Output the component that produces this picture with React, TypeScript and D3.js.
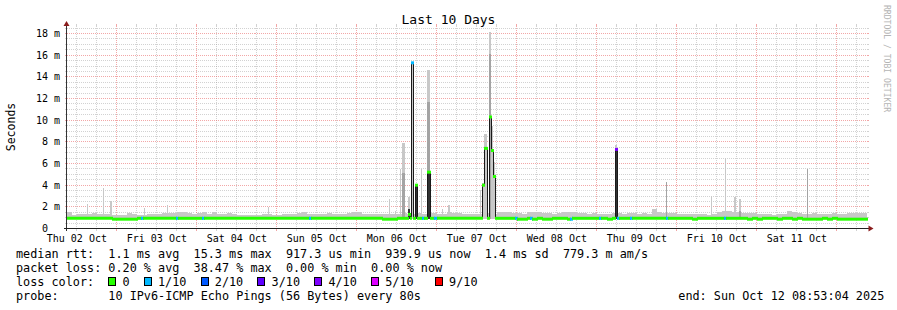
import React from "react";
import * as d3 from "d3";

// ---------------- data ----------------
const TITLE = "Last 10 Days";
const Y_LABEL = "Seconds";
const WATERMARK = "RRDTOOL / TOBI OETIKER";
const START = "2025-10-02T08:53:04Z";
const END = "2025-10-12T08:53:04Z";
const Y_MAX = 18.7; // ms
const Y_TICKS = [0, 2, 4, 6, 8, 10, 12, 14, 16, 18];
const Y_MINOR = 0.5;
const BIN_HOURS = 1.5; // each value below covers 1.5 h
const SMOKE_FLOOR = 0.86; // ms, fastest ping

// upper edge of the smoke (ms) per 1.5 h bin
const SMOKE_TOP = [
  1.5, 1.25, 1.3, 1.3, 1.35, 1.4, 1.38, 1.32, 1.32, 1.25,
  1.23, 1.25, 1.45, 1.3, 1.28, 1.25, 1.32, 1.32, 1.35, 1.45,
  1.42, 1.42, 1.55, 1.5, 1.42, 1.35, 1.4, 1.5, 1.32, 1.5,
  1.32, 1.3, 1.42, 1.38, 1.28, 1.25, 1.23, 1.23, 1.25, 1.35,
  1.3, 1.29, 1.29, 1.3, 1.38, 1.38, 1.45, 1.48, 1.32, 1.32,
  1.3, 1.38, 1.4, 1.38, 1.35, 1.35, 1.45, 1.48, 1.5, 1.3,
  1.3, 1.32, 1.38, 1.3, 1.35, 1.38, 1.35, 1.4, 1.3, 1.35,
  1.4, 1.35, 1.4, 1.45, 1.35, 1.32, 1.5, 1.45, 1.42, 1.38,
  1.35, 1.35, 1.3, 1.28, 1.3, 1.35, 1.55, 1.5, 1.55, 1.45,
  1.4, 1.38, 1.55, 1.5, 1.48, 1.45, 1.42, 1.38, 1.4, 1.5,
  1.55, 1.5, 1.42, 1.4, 1.38, 1.4, 1.35, 1.3, 1.32, 1.45,
  1.4, 1.38, 1.42, 1.45, 1.38, 1.4, 1.35, 1.8, 1.5, 1.45,
  1.4, 1.42, 1.38, 1.35, 1.38, 1.32, 1.35, 1.3, 1.28, 1.3,
  1.5, 1.65, 1.6, 1.48, 1.5, 1.45, 1.42, 1.4, 1.38, 1.35,
  1.3, 1.28, 1.3, 1.32, 1.58, 1.55, 1.4, 1.38, 1.35, 1.4,
  1.38, 1.32, 1.35, 1.4, 1.38, 1.35, 1.42, 1.45, 1.45, 1.42,
];

// median rtt (ms) per 1.5 h bin
const MEDIAN_BASE = [
  0.94, 0.94, 0.94, 0.94, 0.94, 0.94, 0.94, 0.94, 0.94, 0.86,
  0.86, 0.86, 0.86, 0.86, 0.94, 0.94, 0.94, 0.94, 0.94, 0.94,
  0.94, 0.94, 0.94, 0.94, 0.94, 0.94, 0.94, 0.94, 0.94, 0.94,
  0.94, 0.94, 0.94, 0.94, 0.94, 0.94, 0.94, 0.94, 0.94, 0.94,
  0.94, 0.94, 0.94, 0.94, 0.94, 0.94, 0.94, 0.94, 0.94, 0.94,
  0.94, 0.94, 0.94, 0.94, 0.94, 0.94, 0.94, 0.94, 0.94, 0.94,
  0.94, 0.94, 0.94, 0.86, 0.86, 0.86, 0.94, 0.94, 0.94, 0.94,
  0.94, 0.94, 0.94, 0.94, 0.94, 0.94, 0.94, 0.94, 0.94, 0.94,
  0.94, 0.94, 0.94, 0.94, 0.94, 0.94, 0.94, 0.94, 0.94, 0.94,
  0.86, 0.86, 0.94, 0.86, 0.94, 0.86, 0.86, 0.94, 0.94, 0.94,
  0.86, 0.94, 0.94, 0.94, 0.94, 0.94, 0.94, 0.94, 0.86, 0.94,
  0.94, 0.94, 0.94, 0.94, 0.94, 0.94, 0.94, 0.94, 0.94, 0.94,
  0.94, 0.94, 0.94, 0.94, 0.94, 0.86, 0.94, 0.94, 0.94, 0.94,
  0.94, 0.94, 0.94, 0.94, 0.94, 0.94, 0.86, 0.94, 0.86, 0.94,
  0.94, 0.94, 0.86, 0.94, 0.94, 0.86, 0.94, 0.86, 0.86, 0.86,
  0.86, 0.94, 0.86, 0.94, 0.86, 0.86, 0.86, 0.86, 0.86, 0.86,
];

// short periods with 1/10 packet loss on the baseline
const LOSS_SPOTS = [
  "2025-10-03T07:14", "2025-10-03T17:53", "2025-10-04T01:41", "2025-10-05T09:47",
  "2025-10-06T19:32", "2025-10-06T23:08", "2025-10-07T23:35", "2025-10-08T03:56",
  "2025-10-08T16:05", "2025-10-09T00:47", "2025-10-09T06:10", "2025-10-09T09:56",
  "2025-10-09T20:53", "2025-10-10T14:08",
];
const LOSS_SPOT_MINUTES = [36, 36, 36, 36, 36, 54, 36, 36, 36, 36, 27, 36, 36, 36];

// latency spikes
const SPIKE_START = [
  "2025-10-02T15:02", "2025-10-02T19:50", "2025-10-02T21:56", "2025-10-03T08:08",
  "2025-10-03T15:02", "2025-10-04T21:20", "2025-10-06T09:38", "2025-10-06T11:26",
  "2025-10-06T12:56", "2025-10-06T13:41", "2025-10-06T15:20", "2025-10-06T16:23",
  "2025-10-06T17:26", "2025-10-06T19:23", "2025-10-06T21:02", "2025-10-07T01:32",
  "2025-10-07T03:29", "2025-10-07T12:56", "2025-10-07T13:37", "2025-10-07T14:13",
  "2025-10-07T15:01", "2025-10-07T15:43", "2025-10-07T16:23", "2025-10-07T16:59",
  "2025-10-09T05:31", "2025-10-09T20:44", "2025-10-10T10:14", "2025-10-10T14:35",
  "2025-10-10T17:17", "2025-10-10T18:47", "2025-10-11T15:02",
];
const SPIKE_MINUTES = [18, 18, 36, 18, 18, 18, 18, 18, 18, 45, 36, 36, 36, 18, 54, 18,
  36, 18, 36, 48, 42, 40, 36, 32, 36, 27, 18, 18, 27, 27, 18];
const SPIKE_MEDIAN: (number | null)[] = [null, null, null, null, null, null, null, null,
  null, null, 1.3, 15.3, 4.0, null, 5.2, null, null, null, 4.0, 7.4, 0.94, 10.3, 7.2, 4.8,
  7.3, null, null, null, null, null, null];
const SPIKE_LOSS = [0, 0, 0, 0, 0, 0, 0, 0, 0, 0, 0, 1, 0, 0, 0, 0, 0, 0, 0, 0, 0, 0, 0, 0,
  4, 0, 0, 0, 0, 0, 0];
const SPIKE_LIGHT = [2.3, 3.7, 2.5, 1.9, 2.2, 2.0, 2.7, 1.6, 5.5, 7.9, 2.9, 15.4, 4.0, 5.5,
  14.6, 1.8, 2.2, 3.6, 4.2, 8.7, 1.4, 18.1, 9.5, 6.1, 7.7, 4.3, 3.0, 6.5, 2.9, 2.7, 5.5];
const SPIKE_MID = [0, 0, 0, 0, 0, 0, 0, 0, 0, 5.1, 0, 0, 0, 0, 11.7, 0, 0, 0, 0, 0, 0, 16.1,
  0, 0, 0, 4.3, 0, 0, 0, 1.6, 5.5];
const SPIKE_DARK = [0, 0, 0, 0, 0, 0, 0, 0, 0, 0, 1.8, 0, 4.0, 0, 5.2, 0, 0, 0, 0, 0, 0, 0,
  0, 0, 7.3, 0, 0, 0, 0, 0, 0];

const LOSS_COLORS = ["#26ff00", "#00b8ff", "#0059ff", "#5e00ff", "#7e00ff", "#dd00ff", "#ff0000"];
const LOSS_LABELS = ["0", "1/10", "2/10", "3/10", "4/10", "5/10", "9/10"];
const LOSS_BOX_COL = [13, 18, 26, 34, 42, 50, 59];

const LEGEND_RTT = "median rtt:  1.1 ms avg  15.3 ms max  917.3 us min  939.9 us now  1.4 ms sd  779.3 m am/s";
const LEGEND_LOSS = "packet loss: 0.20 % avg  38.47 % max  0.00 % min  0.00 % now";
const LEGEND_COLOR = "loss color:";
const LEGEND_PROBE = "probe:       10 IPv6-ICMP Echo Pings (56 Bytes) every 80s";
const END_LABEL = "end: Sun Oct 12 08:53:04 2025";

// ---------------- layout ----------------
const W = 897;
const H = 310;
const PL = 66.5;
const PR = 866.5;
const PB = 228.5;
const PT = 26;
const MONO = "'DejaVu Sans Mono', monospace";
const CH = 7.1; // legend char width

export default function App() {
  const t0 = new Date(START);
  const t1 = new Date(END);
  const x = d3.scaleUtc().domain([t0, t1]).range([PL, PR]);
  const y = d3.scaleLinear().domain([0, Y_MAX]).range([PB, PT]);
  const snap = (v: number) => Math.floor(v) + 0.5;
  const parse = d3.utcParse("%Y-%m-%dT%H:%M");
  const T0 = t0.getTime();
  const T1 = t1.getTime();
  const binMs = BIN_HOURS * 3600000;

  const spikes = SPIKE_START.map((s, i) => {
    const a = parse(s)!.getTime();
    return {
      a, b: a + SPIKE_MINUTES[i] * 60000, med: SPIKE_MEDIAN[i], loss: SPIKE_LOSS[i],
      light: SPIKE_LIGHT[i], mid: SPIKE_MID[i], dark: SPIKE_DARK[i],
    };
  });
  const spots = LOSS_SPOTS.map((s, i) => {
    const a = parse(s)!.getTime();
    return { a, b: a + LOSS_SPOT_MINUTES[i] * 60000, loss: 1 };
  });

  const bp = new Set<number>();
  for (let k = 0; k <= MEDIAN_BASE.length; k++) bp.add(Math.min(T1, T0 + k * binMs));
  spikes.forEach((s) => { if (s.med != null) { bp.add(s.a); bp.add(s.b); } });
  spots.forEach((s) => { bp.add(s.a); bp.add(s.b); });
  const br = Array.from(bp).filter((t) => t >= T0 && t <= T1).sort((p, q) => p - q);
  const segs: { a: number; b: number; v: number; loss: number }[] = [];
  for (let i = 0; i < br.length - 1; i++) {
    const a = br[i], b = br[i + 1], m = (a + b) / 2;
    const sp = spikes.find((s) => s.med != null && m >= s.a && m < s.b);
    let v: number, loss: number;
    if (sp) { v = sp.med as number; loss = sp.loss; }
    else {
      const k = Math.min(MEDIAN_BASE.length - 1, Math.floor((m - T0) / binMs));
      v = MEDIAN_BASE[k];
      const spot = spots.find((s) => m >= s.a && m < s.b);
      loss = spot ? spot.loss : 0;
    }
    const last = segs[segs.length - 1];
    if (last && last.v === v && last.loss === loss) last.b = b;
    else segs.push({ a, b, v, loss });
  }

  const pts: [number, number][] = [];
  segs.forEach((s) => {
    pts.push([Math.round(x(s.a)), y(s.v)]);
    pts.push([Math.round(x(s.b)), y(s.v)]);
  });
  const stepPath = d3.line()(pts) || "";

  // grids
  const minorY: number[] = [];
  for (let v = Y_MINOR; v <= Y_MAX; v += Y_MINOR) {
    if (Math.abs(v / 2 - Math.round(v / 2)) > 1e-6) minorY.push(v);
  }
  const majorY = Y_TICKS.filter((v) => v > 0);
  const days = d3.utcDay.range(d3.utcDay.ceil(t0), t1);
  const sixH = d3.utcHour.every(6)!.range(t0, t1).filter((d) => d.getUTCHours() !== 0);
  const labelDays = d3.utcDay.range(d3.utcDay.floor(t0), t1)
    .map((d) => d3.utcHour.offset(d, 12)).filter((d) => d >= t0 && d <= t1);
  const fmt = d3.utcFormat("%a %d %b");

  const gridGray = "rgba(143,143,143,0.4)";
  const gridRed = "rgba(230,80,80,0.5)";

  return (
    <svg width={W} height={H} style={{ position: "absolute", left: 0, top: 0, background: "#fff" }}
      fontFamily={MONO}>
      <rect x={0} y={0} width={W} height={H} fill="#fff" />
      {/* grid */}
      <g strokeWidth={1} shapeRendering="crispEdges">
        {minorY.map((v) => (
          <g key={"my" + v}>
            <line x1={PL} x2={PR} y1={snap(y(v))} y2={snap(y(v))} stroke={gridGray} strokeDasharray="1,1" />
            <line x1={PL - 2} x2={PL} y1={snap(y(v))} y2={snap(y(v))} stroke={gridGray} />
            <line x1={PR} x2={PR + 2} y1={snap(y(v))} y2={snap(y(v))} stroke={gridGray} />
          </g>
        ))}
        {sixH.map((d) => (
          <g key={"mx" + d.getTime()}>
            <line x1={snap(x(d))} x2={snap(x(d))} y1={PT} y2={PB} stroke={gridGray} strokeDasharray="1,1" />
            <line x1={snap(x(d))} x2={snap(x(d))} y1={PB} y2={PB + 2} stroke={gridGray} />
            <line x1={snap(x(d))} x2={snap(x(d))} y1={PT - 2} y2={PT} stroke={gridGray} />
          </g>
        ))}
        {majorY.map((v) => (
          <g key={"My" + v}>
            <line x1={PL} x2={PR} y1={snap(y(v))} y2={snap(y(v))} stroke={gridRed} strokeDasharray="1,1" />
            <line x1={PL - 2} x2={PL} y1={snap(y(v))} y2={snap(y(v))} stroke={gridRed} />
            <line x1={PR} x2={PR + 2} y1={snap(y(v))} y2={snap(y(v))} stroke={gridRed} />
          </g>
        ))}
        {days.map((d) => (
          <g key={"Mx" + d.getTime()}>
            <line x1={snap(x(d))} x2={snap(x(d))} y1={PT} y2={PB} stroke={gridRed} strokeDasharray="1,1" />
            <line x1={snap(x(d))} x2={snap(x(d))} y1={PB} y2={PB + 2} stroke={gridRed} />
            <line x1={snap(x(d))} x2={snap(x(d))} y1={PT - 2} y2={PT} stroke={gridRed} />
          </g>
        ))}
      </g>

      {/* smoke */}
      <g shapeRendering="crispEdges">
        {SMOKE_TOP.map((v, k) => {
          const xa = x(new Date(T0 + k * binMs));
          const xb = x(new Date(Math.min(T1, T0 + (k + 1) * binMs)));
          return <rect key={"s" + k} x={xa} width={xb - xa} y={y(v)} height={y(SMOKE_FLOOR) - y(v)} fill="#c8c8c8" />;
        })}
        {spikes.map((s, i) => {
          const xa = x(new Date(s.a));
          const w = Math.max(1, x(new Date(s.b)) - xa);
          const out = [] as React.ReactNode[];
          if (s.light > 0) out.push(<rect key="l" x={xa} width={w} y={y(s.light)} height={y(SMOKE_FLOOR) - y(s.light)} fill="#c8c8c8" />);
          if (s.mid > 0) out.push(<rect key="m" x={xa} width={w} y={y(s.mid)} height={y(SMOKE_FLOOR) - y(s.mid)} fill="#a4a4a4" />);
          if (s.dark > 0) out.push(<rect key="d" x={xa} width={w} y={y(s.dark)} height={y(SMOKE_FLOOR) - y(s.dark)} fill="#323232" />);
          return <g key={"sp" + i}>{out}</g>;
        })}
      </g>

      {/* median */}
      <path d={stepPath} fill="none" stroke="#1a1a1a" strokeWidth={1} transform="translate(0.5,0)" />
      <g>
        {segs.map((s, i) => (
          <line key={"c" + i} x1={Math.round(x(s.a))} x2={Math.round(x(s.b)) + 1} y1={y(s.v)} y2={y(s.v)}
            stroke={LOSS_COLORS[s.loss]} strokeWidth={3} />
        ))}
      </g>

      {/* axes */}
      <g shapeRendering="crispEdges">
        <line x1={PL} x2={PL} y1={PB + 2} y2={PT - 1} stroke="#333" />
        <line x1={PL - 3} x2={PR + 2} y1={PB} y2={PB} stroke="#222" />
      </g>
      <path d={`M${PL - 3},${PT} L${PL + 3},${PT} L${PL},${PT - 5} Z`} fill="#8a1c1c" />
      <path d={`M${PR + 2},${PB - 3} L${PR + 2},${PB + 3} L${PR + 7},${PB} Z`} fill="#8a1c1c" />

      {/* y labels */}
      <g fontSize={10} fill="#000" textAnchor="end">
        {Y_TICKS.map((v) => (
          <text key={"yl" + v} x={v === 0 ? 60 - 2 * 6.02 : 60} y={snap(y(v)) + 3.5}>
            {v === 0 ? "0" : `${v} m`}
          </text>
        ))}
      </g>
      {/* x labels */}
      <g fontSize={10} fill="#000" textAnchor="middle">
        {labelDays.map((d) => (
          <text key={"xl" + d.getTime()} x={x(d)} y={241.5}>{fmt(d)}</text>
        ))}
      </g>

      {/* title */}
      <text x={448.5} y={24} fontSize={13} textAnchor="middle" fill="#000">{TITLE}</text>
      <text transform="translate(15,127) rotate(-90)" fontSize={11.5} textAnchor="middle" fill="#000">{Y_LABEL}</text>
      <text transform="translate(884,5) rotate(90)" fontSize={8.1} fill="#b4b4b4">{WATERMARK}</text>

      {/* legend */}
      <g fontSize={11.8} fill="#000" style={{ whiteSpace: "pre" }}>
        <text x={16} y={258} xmlSpace="preserve">{LEGEND_RTT}</text>
        <text x={16} y={272} xmlSpace="preserve">{LEGEND_LOSS}</text>
        <text x={16} y={286} xmlSpace="preserve">{LEGEND_COLOR}</text>
        {LOSS_LABELS.map((l, i) => (
          <g key={"lg" + i}>
            <rect x={16 + LOSS_BOX_COL[i] * CH + 0.5} y={277.5} width={7} height={8} fill={LOSS_COLORS[i]}
              stroke="#000" strokeWidth={1} shapeRendering="crispEdges" />
            <text x={16 + (LOSS_BOX_COL[i] + 2) * CH} y={286}>{l}</text>
          </g>
        ))}
        <text x={16} y={300} xmlSpace="preserve">{LEGEND_PROBE}</text>
        <text x={678.3} y={300} xmlSpace="preserve">{END_LABEL}</text>
      </g>
    </svg>
  );
}
